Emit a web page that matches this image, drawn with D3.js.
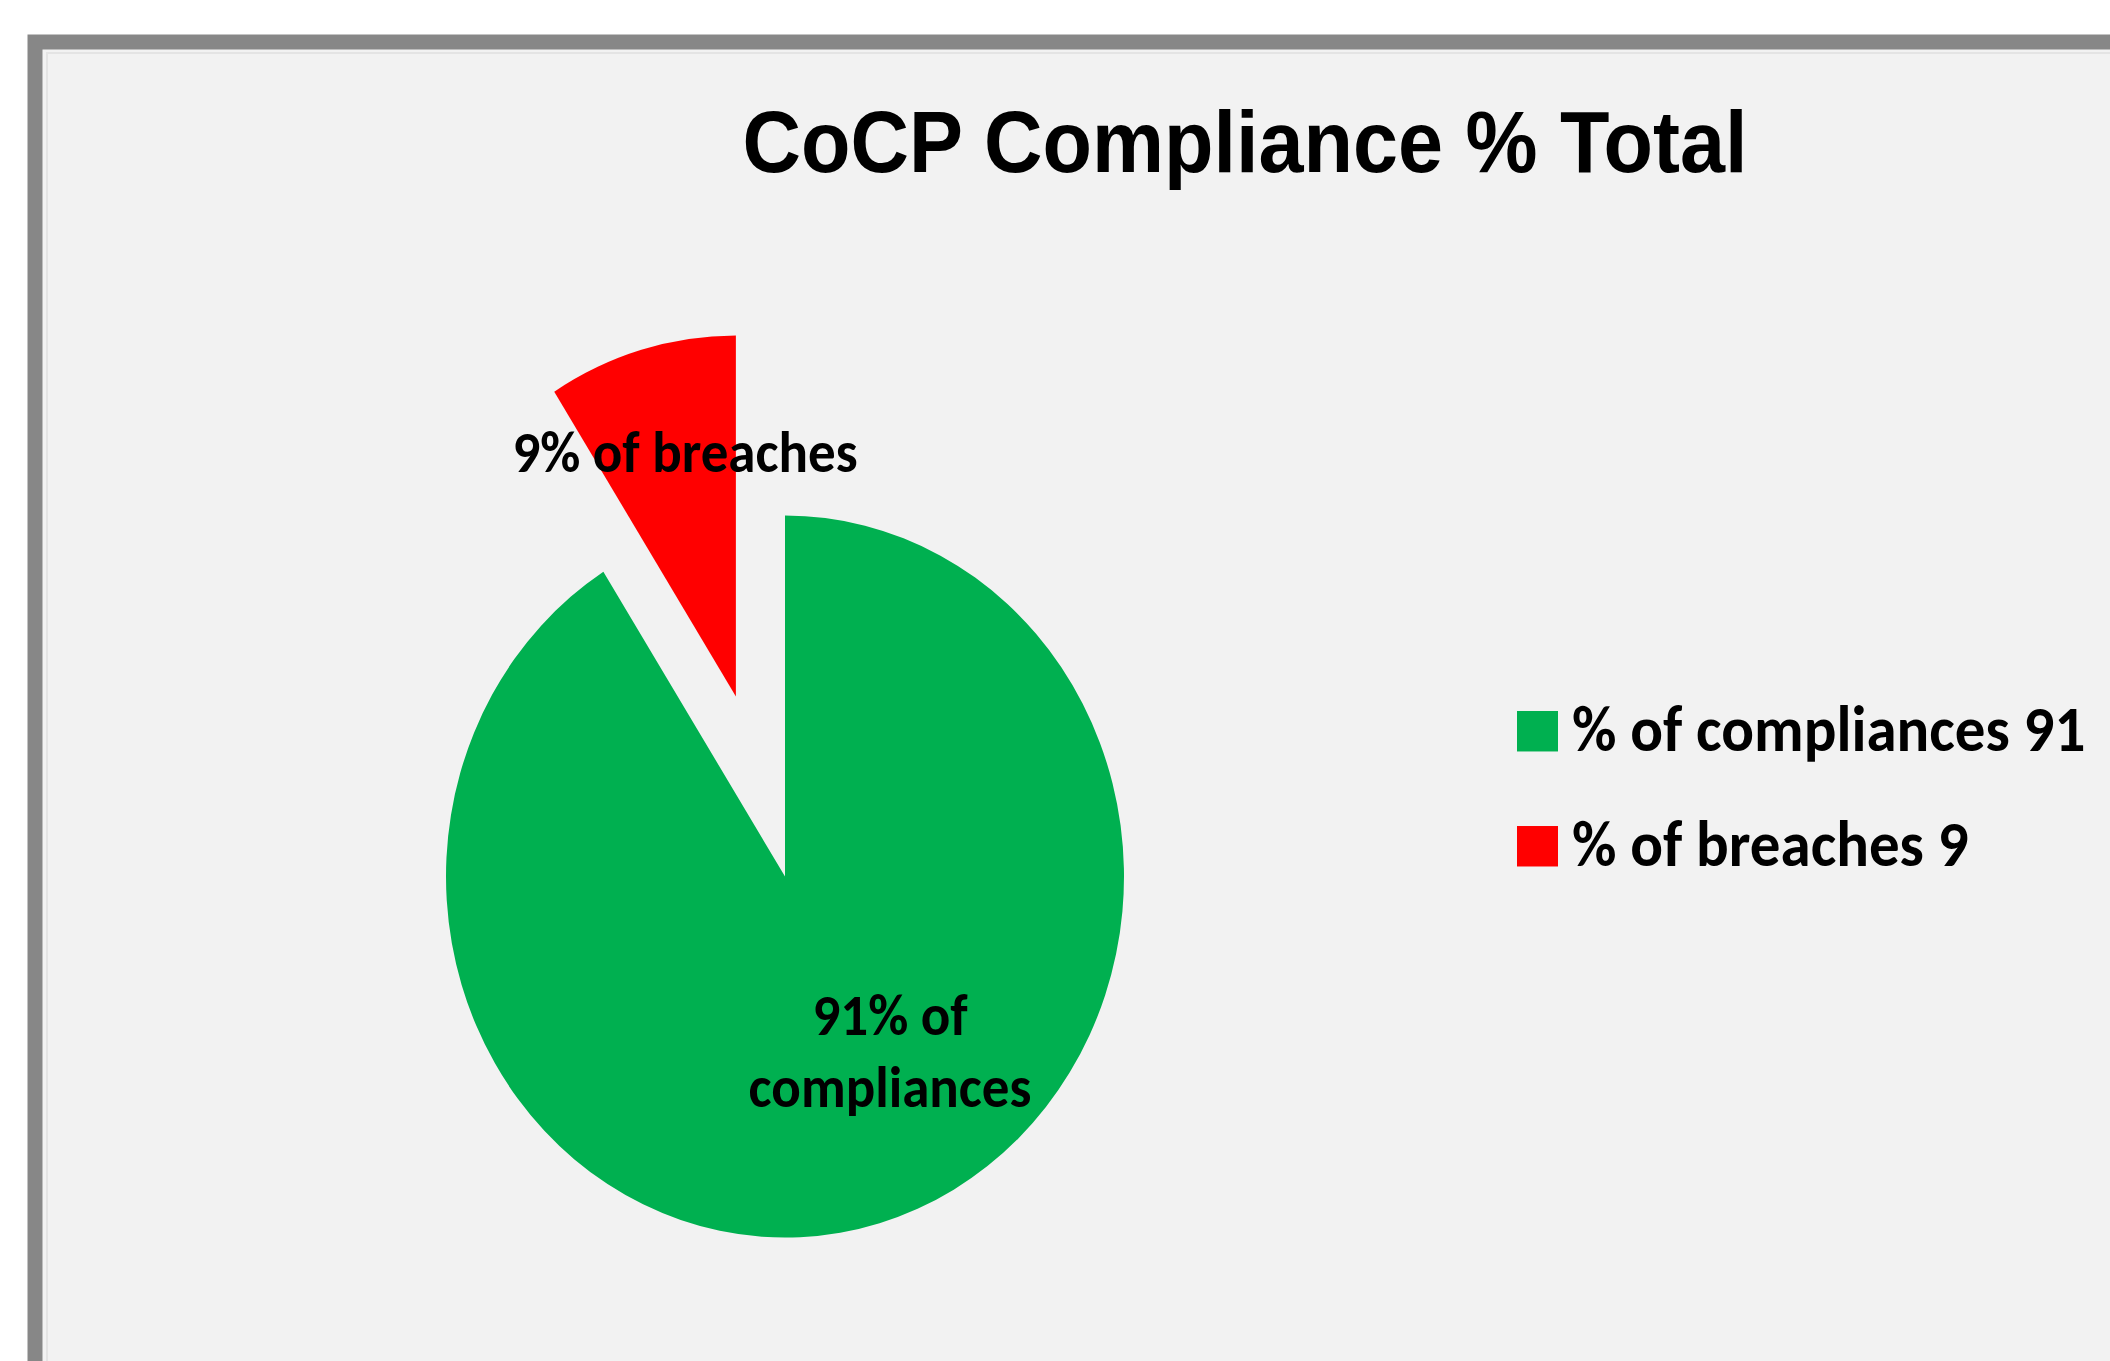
<!DOCTYPE html>
<html>
<head>
<meta charset="utf-8">
<script src="https://cdn.jsdelivr.net/npm/d3@7"></script>
<style>
  html, body { margin: 0; padding: 0; background: #ffffff; }
  svg { display: block; }
</style>
</head>
<body>
<script>
// Chart data
const title = "CoCP Compliance % Total";
const categories = ["compliances", "breaches"];
const values = [91, 9];
const colors = ["#00b050", "#ff0000"];
const explodedIndex = 1;

const W = 2110, H = 1361;
const sy = 1.065;            // chart is drawn slightly taller than wide

const svg = d3.select("body").append("svg")
  .attr("width", W).attr("height", H);

// Outer chart frame
svg.append("rect")
  .attr("x", 35).attr("y", 42)
  .attr("width", W + 100).attr("height", H + 100)
  .attr("fill", "#f2f2f2")
  .attr("stroke", "#878787")
  .attr("stroke-width", 15);
svg.append("path")
  .attr("d", `M47,${H + 10} V53 H${W + 10}`)
  .attr("fill", "none")
  .attr("stroke", "#e4e4e4")
  .attr("stroke-width", 2);

const g = svg.append("g").attr("transform", `scale(1,${sy})`);

// Title
g.append("text")
  .attr("x", 1245).attr("y", 161.5)
  .attr("text-anchor", "middle")
  .attr("font-family", "'Liberation Sans', Arial, sans-serif")
  .attr("font-weight", "bold")
  .attr("font-size", 81)
  .attr("fill", "#000")
  .text(title);

// Pie
const cx = 785, cy = 823, r = 339, explode = 176;
const pie = d3.pie().sort(null).startAngle(0).endAngle(2 * Math.PI);
const arcs = pie(values);
const arc = d3.arc().innerRadius(0).outerRadius(r);

const pieG = g.append("g").attr("transform", `translate(${cx},${cy})`);
const mid = d => (d.startAngle + d.endAngle) / 2;
const offset = (d, i) => {
  const k = i === explodedIndex ? explode : 0;
  return [Math.sin(mid(d)) * k, -Math.cos(mid(d)) * k];
};

pieG.selectAll("path.slice")
  .data(arcs)
  .join("path")
  .attr("class", "slice")
  .attr("d", arc)
  .attr("fill", (d, i) => colors[i])
  .attr("transform", (d, i) => `translate(${offset(d, i)})`);

// Slice labels
const labelFont = "Carlito, Lato, 'Open Sans', sans-serif";
const labelLines = [
  [`${values[0]}% of`, categories[0]],
  [`${values[1]}% of ${categories[1]}`]
];
const labelPos = [[105, 148.5], [-100, -379.5]];
const lineGap = 67.6;

labelLines.forEach((lines, i) => {
  const t = pieG.append("text")
    .attr("text-anchor", "middle")
    .attr("font-family", labelFont)
    .attr("font-weight", "bold")
    .attr("font-size", 55)
    .attr("fill", "#000");
  lines.forEach((s, j) => {
    t.append("tspan")
      .attr("x", labelPos[i][0])
      .attr("y", labelPos[i][1] + j * lineGap)
      .text(s);
  });
});

// Legend
const legend = g.append("g").attr("transform", "translate(1517,667.6)");
const rowH = 108;
const items = legend.selectAll("g.item")
  .data(categories)
  .join("g")
  .attr("class", "item")
  .attr("transform", (d, i) => `translate(0,${i * rowH})`);
items.append("rect")
  .attr("width", 41).attr("height", 38)
  .attr("fill", (d, i) => colors[i]);
items.append("text")
  .attr("x", 55).attr("y", 37.5)
  .attr("font-family", labelFont)
  .attr("font-weight", "bold")
  .attr("font-size", 61)
  .attr("fill", "#000")
  .text((d, i) => `% of ${d} ${values[i]}`);
</script>
</body>
</html>
